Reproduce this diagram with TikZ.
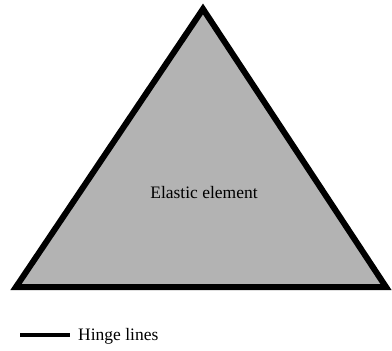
\documentclass[tikz,border=0pt]{standalone}
\usepackage{fontspec}
\setmainfont{Liberation Serif}
\definecolor{elgray}{RGB}{179,179,179}
\tikzset{
  elastic/.style={draw=black, fill=elgray, line width=6pt, line join=miter},
  hinge/.style={draw=black, line width=4pt},
  lbl/.style={font=\fontsize{17.5}{20}\selectfont, text=black, inner sep=0pt}
}
\begin{document}
\begin{tikzpicture}[x=1pt,y=-1pt]
\useasboundingbox (0,0) rectangle (392,351);
\coordinate (apex) at (203,9);
\coordinate (bl) at (16,287);
\coordinate (br) at (386,287);
\draw[elastic] (apex) -- (bl) -- (br) -- cycle;
\node[lbl] (elastic) at (204,193) {Elastic element};
\coordinate (h1) at (20,335);
\coordinate (h2) at (70,335);
\draw[hinge] (h1) -- (h2);
\node[lbl, anchor=west] (hingelbl) at (78,336) {Hinge lines};
\end{tikzpicture}
\end{document}
